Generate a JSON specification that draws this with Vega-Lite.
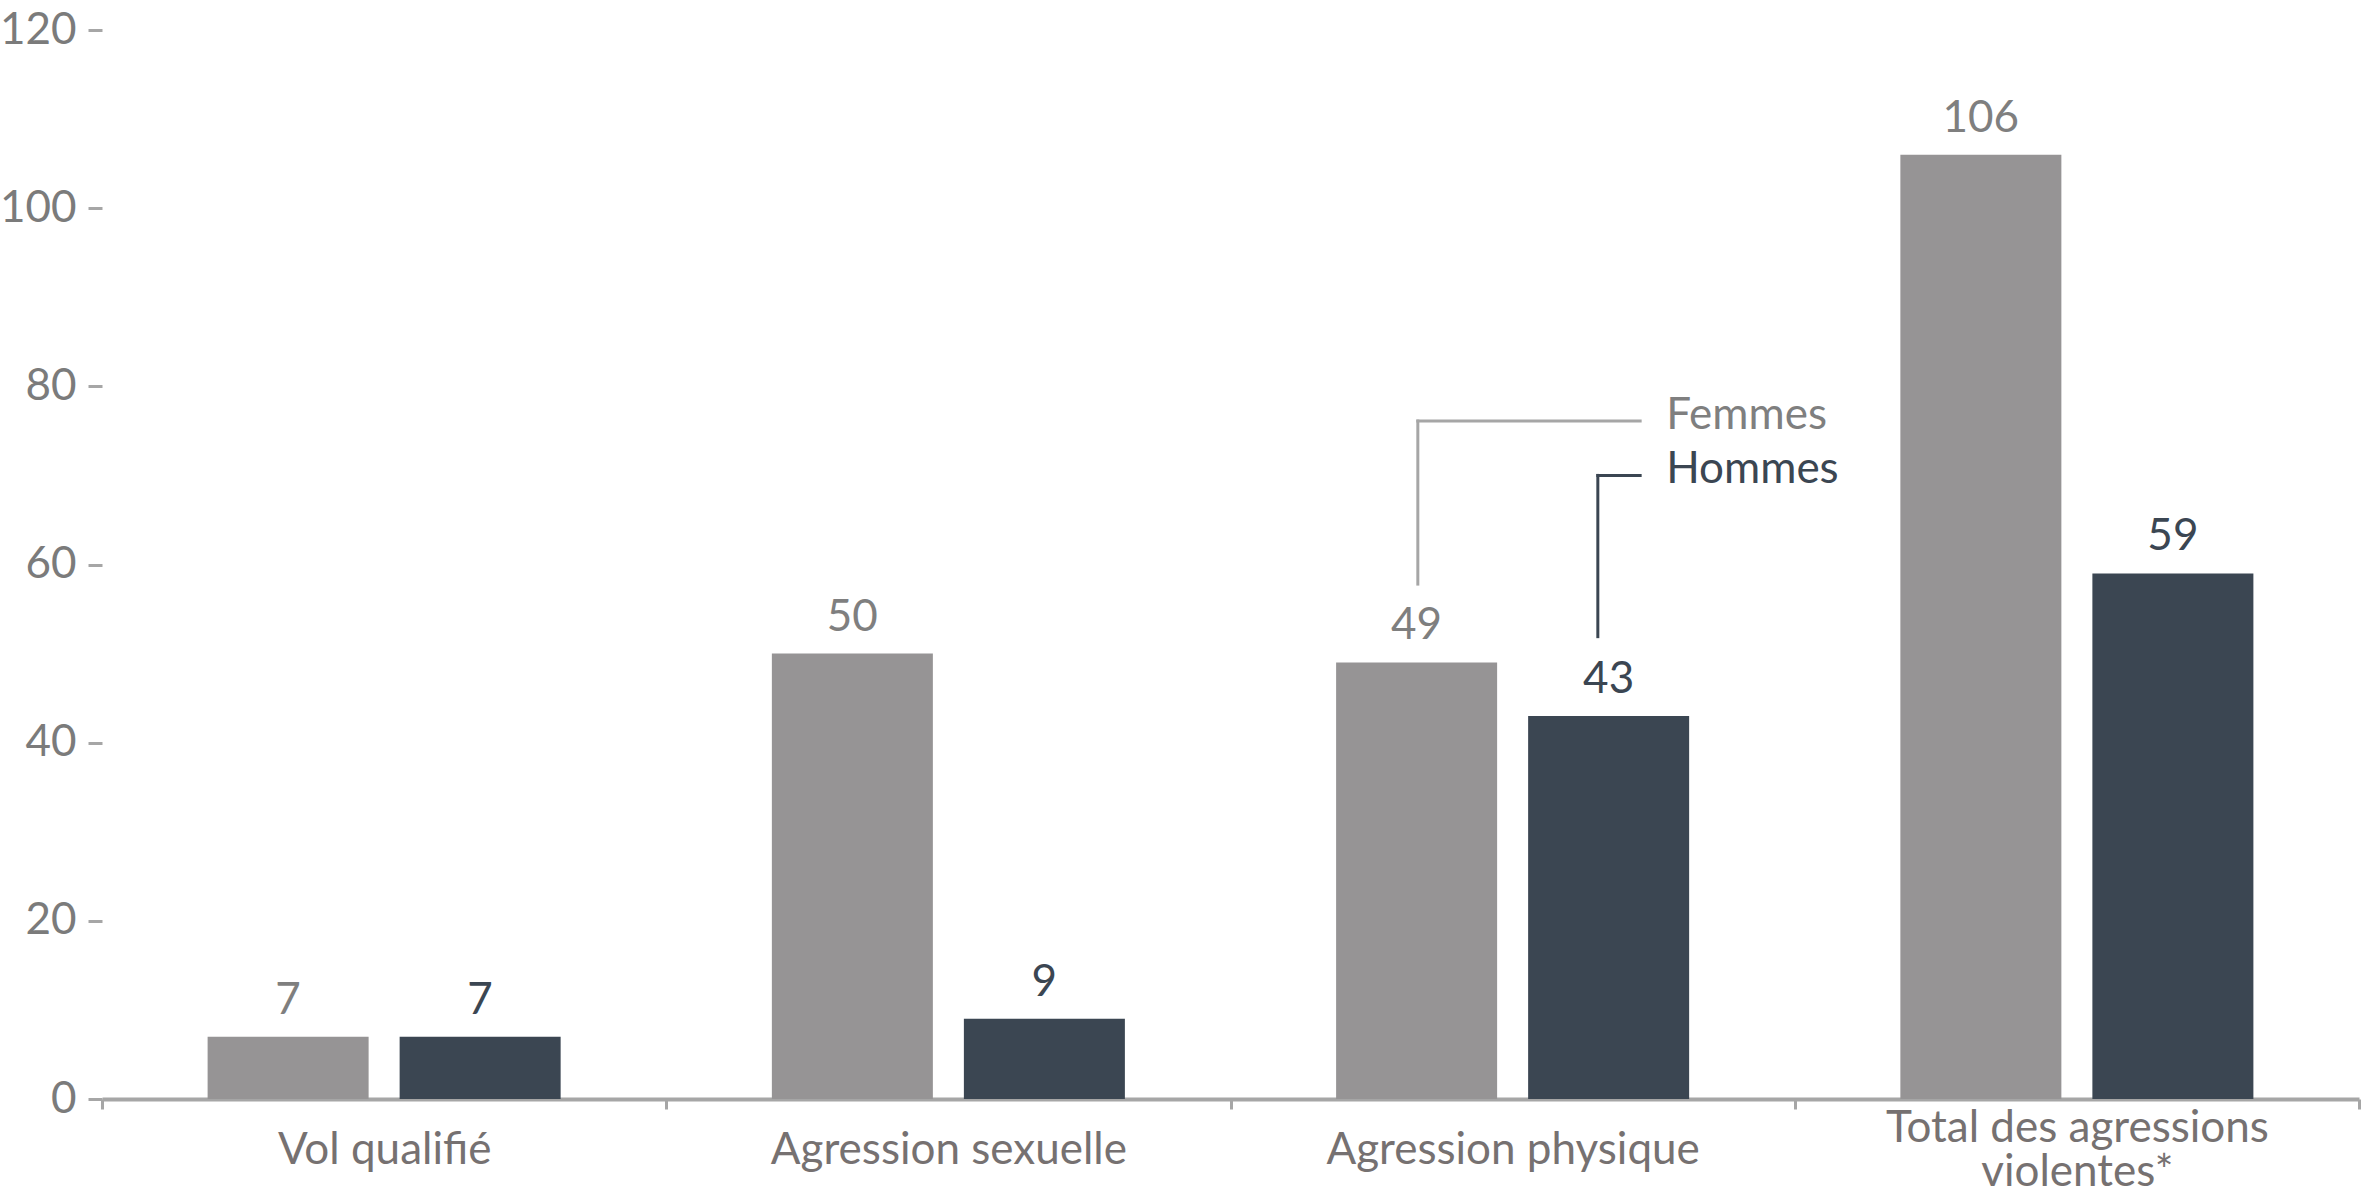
{
  "$schema": "https://vega.github.io/schema/vega-lite/v6.json",
  "description": "Victimes d'agressions violentes selon le sexe",
  "width": 2257,
  "height": 1069,
  "autosize": {"type": "none"},
  "padding": {"left": 102, "top": 30, "right": 5, "bottom": 101},
  "layer": [
    {
      "data": {
        "values": [
          {"categorie": "Vol qualifié", "sexe": "Femmes", "valeur": 7},
          {"categorie": "Vol qualifié", "sexe": "Hommes", "valeur": 7},
          {"categorie": "Agression sexuelle", "sexe": "Femmes", "valeur": 50},
          {"categorie": "Agression sexuelle", "sexe": "Hommes", "valeur": 9},
          {"categorie": "Agression physique", "sexe": "Femmes", "valeur": 49},
          {"categorie": "Agression physique", "sexe": "Hommes", "valeur": 43},
          {"categorie": "Total des agressions violentes*", "sexe": "Femmes", "valeur": 106},
          {"categorie": "Total des agressions violentes*", "sexe": "Hommes", "valeur": 59}
        ]
      },
      "encoding": {
        "x": {
          "field": "categorie",
          "type": "nominal",
          "sort": ["Vol qualifié", "Agression sexuelle", "Agression physique", "Total des agressions violentes*"],
          "title": null,
          "scale": {"paddingInner": 0, "paddingOuter": 0},
          "axis": {
            "labelExpr": "datum.label == 'Total des agressions violentes*' ? ['Total des agressions', 'violentes*'] : datum.label",
            "labelPadding": {
              "condition": {"test": "datum.value == 'Total des agressions violentes*'", "value": 19},
              "value": 41
            }
          }
        },
        "xOffset": {
          "field": "sexe",
          "type": "nominal",
          "sort": ["Femmes", "Hommes"],
          "scale": {"paddingInner": 0.1615, "paddingOuter": 0.55}
        },
        "y": {
          "field": "valeur",
          "type": "quantitative",
          "title": null,
          "scale": {"domain": [0, 120], "nice": false},
          "axis": {"values": [0, 20, 40, 60, 80, 100, 120]}
        }
      },
      "layer": [
        {
          "mark": {"type": "bar"},
          "encoding": {
            "color": {
              "field": "sexe",
              "type": "nominal",
              "scale": {"domain": ["Femmes", "Hommes"], "range": ["#969495", "#3b4652"]},
              "legend": null
            }
          }
        },
        {
          "mark": {"type": "text", "baseline": "alphabetic", "dy": -23, "fontSize": 44, "font": "Lato"},
          "encoding": {
            "text": {"field": "valeur", "type": "quantitative"},
            "color": {
              "condition": {"test": "datum.sexe === 'Femmes'", "value": "#7f7f7f"},
              "value": "#3b4652"
            }
          }
        }
      ]
    },
    {
      "data": {
        "values": [
          {"sexe": "Femmes", "x": 2.332, "xfin": 2.726, "ybas": 57.8, "yhaut": 76.1},
          {"sexe": "Hommes", "x": 2.651, "xfin": 2.726, "ybas": 51.9, "yhaut": 70.0}
        ]
      },
      "layer": [
        {
          "mark": {"type": "rule", "strokeWidth": 3, "strokeCap": "square"},
          "encoding": {
            "x": {"field": "x", "type": "quantitative", "scale": {"domain": [0, 4], "nice": false, "zero": false}, "axis": null},
            "y": {"field": "ybas", "type": "quantitative", "title": null, "scale": {"domain": [0, 120], "nice": false}},
            "y2": {"field": "yhaut"},
            "color": {
              "condition": {"test": "datum.sexe === 'Femmes'", "value": "#a6a6a6"},
              "value": "#3b4652"
            }
          }
        },
        {
          "mark": {"type": "rule", "strokeWidth": 3, "strokeCap": "square"},
          "encoding": {
            "x": {"field": "x", "type": "quantitative", "scale": {"domain": [0, 4], "nice": false, "zero": false}, "axis": null},
            "x2": {"field": "xfin"},
            "y": {"field": "yhaut", "type": "quantitative", "title": null, "scale": {"domain": [0, 120], "nice": false}},
            "color": {
              "condition": {"test": "datum.sexe === 'Femmes'", "value": "#a6a6a6"},
              "value": "#3b4652"
            }
          }
        },
        {
          "mark": {"type": "text", "align": "left", "baseline": "middle", "dx": 26, "dy": -5, "fontSize": 44, "font": "Lato"},
          "encoding": {
            "x": {"field": "xfin", "type": "quantitative", "scale": {"domain": [0, 4], "nice": false, "zero": false}, "axis": null},
            "y": {"field": "yhaut", "type": "quantitative", "title": null, "scale": {"domain": [0, 120], "nice": false}},
            "text": {"field": "sexe"},
            "color": {
              "condition": {"test": "datum.sexe === 'Femmes'", "value": "#7f7f7f"},
              "value": "#3b4652"
            }
          }
        }
      ]
    }
  ],
  "resolve": {"scale": {"x": "independent"}},
  "config": {
    "view": {"stroke": null},
    "font": "Lato",
    "axisX": {
      "domainColor": "#a6a6a6",
      "domainWidth": 4,
      "tickColor": "#a6a6a6",
      "tickWidth": 3,
      "tickSize": 10,
      "tickBand": "extent",
      "labelColor": "#767171",
      "labelFont": "Lato",
      "labelFontSize": 44,
      "labelAngle": 0,
      "labelBaseline": "middle",
      "labelLineHeight": 44,
      "labelLimit": 800,
      "grid": false
    },
    "axisY": {
      "domain": false,
      "grid": false,
      "tickColor": "#a6a6a6",
      "tickWidth": 3,
      "tickSize": 14,
      "labelColor": "#7b7b7b",
      "labelFont": "Lato",
      "labelFontSize": 44,
      "labelPadding": 12
    }
  }
}
